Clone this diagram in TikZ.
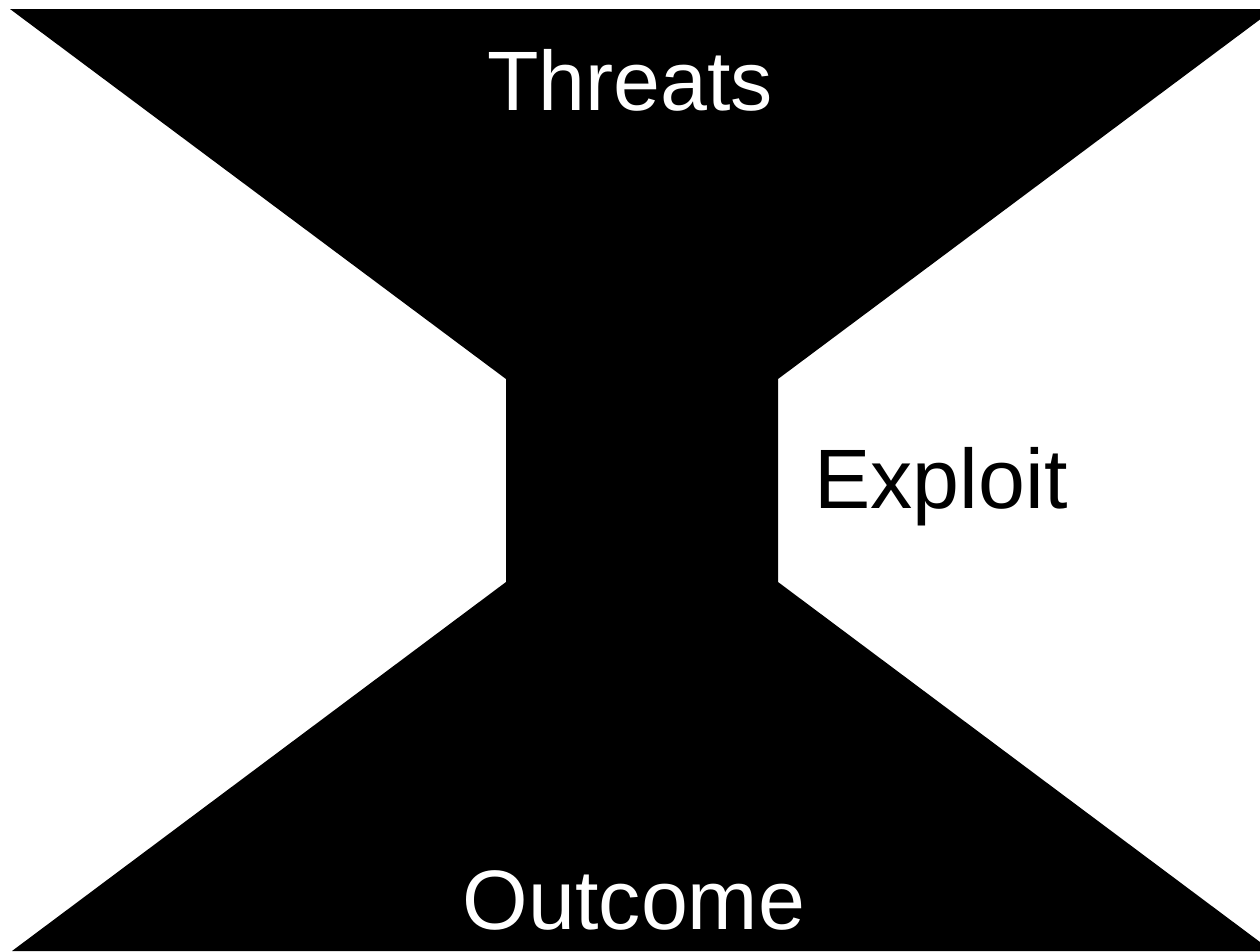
\documentclass[tikz,border=0pt]{standalone}
\usepackage{fontspec}
\setmainfont{Liberation Sans}
\usetikzlibrary{positioning}

\begin{document}
\begin{tikzpicture}[x=0.02cm, y=-0.02cm, every node/.style={font=\fontsize{48}{58}\selectfont, inner sep=0pt}]
  \useasboundingbox (0,0) rectangle (1260,951);
  \clip (0,0) rectangle (1260,951);
  % Hourglass
  \fill[black] (10,9) -- (1274,9) -- (778,379) -- (778,582) -- (1272,951)
    -- (12,951) -- (506,582) -- (506,379) -- cycle;
  % Labels
  \node[white, anchor=base] (threats) at (630,110) {Threats};
  \node[black, anchor=base west] (exploit) at (814,508) {Exploit};
  \node[white, anchor=base] (outcome) at (634,929) {Outcome};
\end{tikzpicture}
\end{document}
